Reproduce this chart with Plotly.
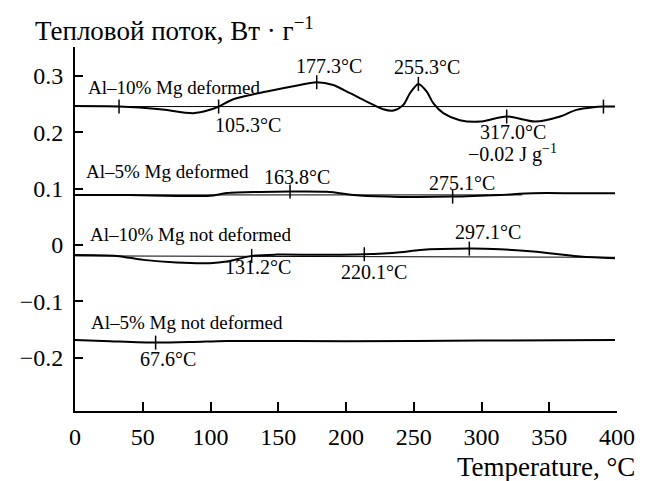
import plotly.graph_objects as go

# ---- data ----
t1 = [0, 32.5, 62.7, 87.3, 99.6, 106, 116.8, 141.5, 166, 178.4, 190.6, 203, 215.3, 227.5, 235, 242.3, 247.2, 253.4,
      259.6, 264.4, 271.8, 284, 298.9, 318.6, 339.5, 358, 370, 382.5, 390, 398.5]
v1 = [0.2465, 0.2457, 0.241, 0.234, 0.240, 0.2457, 0.2588, 0.2724, 0.284, 0.289, 0.284, 0.2694, 0.2545, 0.241, 0.2386,
      0.2487, 0.2694, 0.286, 0.2723, 0.2517, 0.234, 0.2215, 0.219, 0.228, 0.219, 0.228, 0.2398, 0.2446, 0.2457, 0.2457]
base1_t = [0, 398.5]
base1_v = [0.2457, 0.2457]

t2 = [0, 40, 75, 99.6, 112, 136.5, 158.7, 185.7, 210, 240, 278.7, 313.7, 338, 370, 398.5]
v2 = [0.0888, 0.0885, 0.087, 0.0873, 0.092, 0.094, 0.0947, 0.0942, 0.0876, 0.0853, 0.0858, 0.0888, 0.0918, 0.0918, 0.0918]
base2_t = [0, 330]
base2_v = [0.0888, 0.0888]

t3 = [0, 30.8, 50.4, 75, 99.6, 112, 130.4, 148.8, 180, 213.5, 240, 254.6, 291, 313.7, 338.2, 372.7, 398.5]
v3 = [-0.0178, -0.0195, -0.0266, -0.0314, -0.0325, -0.0296, -0.0195, -0.0172, -0.0175, -0.0166, -0.013, -0.0089,
      -0.0065, -0.0077, -0.0118, -0.0207, -0.0237]
base3_t = [0, 398.5]
base3_v = [-0.0195, -0.022]

t4 = [0, 25.8, 59.5, 87.3, 112, 200, 300, 398.5]
v4 = [-0.1687, -0.171, -0.1735, -0.1723, -0.1705, -0.171, -0.170, -0.169]

# tick marks on curves (temperature, value)
mark_t = [32.5, 106, 178.4, 253.4, 318.6, 390, 158.7, 278.7, 130.4, 213.5, 291, 59.5]
mark_v = [0.2457, 0.2457, 0.289, 0.286, 0.228, 0.2457, 0.0947, 0.0858, -0.0195, -0.0166, -0.0065, -0.1735]

# curve labels (left-anchored)
name_text = ["Al\u201310% Mg deformed", "Al\u20135% Mg deformed", "Al\u201310% Mg not deformed", "Al\u20135% Mg not deformed"]
name_t = [7.9, 6.6, 9.8, 10.6]
name_v = [0.2797, 0.130, 0.0178, -0.1377]

# peak labels (centered)
peak_text = ["177.3\u00b0C", "255.3\u00b0C", "105.3\u00b0C", "317.0\u00b0C", "\u22120.02 J g<sup>\u22121</sup>",
             "163.8\u00b0C", "275.1\u00b0C", "131.2\u00b0C", "220.1\u00b0C", "297.1\u00b0C", "67.6\u00b0C"]
peak_t = [187.5, 259.6, 127.7, 323.2, 323.2, 164.2, 285.4, 135.0, 220.7, 304.6, 68.9]
peak_v = [0.317, 0.316, 0.213, 0.2007, 0.163, 0.1213, 0.110, -0.039, -0.048, 0.023, -0.2025]

x_ticks = [0, 50, 100, 150, 200, 250, 300, 350, 400]
y_ticks = [-0.2, -0.1, 0, 0.1, 0.2, 0.3]

FONT = "Liberation Serif"

fig = go.Figure()
for bt, bv in [(base1_t, base1_v), (base2_t, base2_v), (base3_t, base3_v)]:
    fig.add_trace(go.Scatter(x=bt, y=bv, mode="lines", line=dict(color="black", width=1), hoverinfo="skip"))
for tt, vv in [(t1, v1), (t2, v2), (t3, v3), (t4, v4)]:
    fig.add_trace(go.Scatter(x=tt, y=vv, mode="lines", line=dict(color="black", width=2, shape="spline", smoothing=0.8)))
fig.add_trace(go.Scatter(x=mark_t, y=mark_v, mode="markers",
                         marker=dict(symbol="line-ns", size=10, line=dict(color="black", width=1.5))))

annotations = []
for txt, x, y in zip(name_text, name_t, name_v):
    annotations.append(dict(x=x, y=y, xref="x", yref="y", text=txt, showarrow=False, xanchor="left",
                            yanchor="middle", font=dict(family=FONT, size=19, color="black")))
for txt, x, y in zip(peak_text, peak_t, peak_v):
    annotations.append(dict(x=x, y=y, xref="x", yref="y", text=txt, showarrow=False, xanchor="center",
                            yanchor="middle", font=dict(family=FONT, size=20, color="black")))
annotations.append(dict(x=-0.0775, y=1.049, xref="paper", yref="paper",
                        text="Тепловой поток, Вт · г<sup>\u22121</sup>", showarrow=False, xanchor="left",
                        yanchor="middle", font=dict(family=FONT, size=27, color="black")))
annotations.append(dict(x=1.037, y=-0.154, xref="paper", yref="paper", text="Temperature, \u00b0C",
                        showarrow=False, xanchor="right", yanchor="middle",
                        font=dict(family=FONT, size=27, color="black")))

fig.update_layout(
    width=649, height=481,
    margin=dict(l=75, r=32, t=47, b=70),
    paper_bgcolor="white", plot_bgcolor="white",
    showlegend=False,
    annotations=annotations,
    font=dict(family=FONT, size=20, color="black"),
)
fig.update_xaxes(range=[0, 400], tickvals=x_ticks, ticks="inside", ticklen=9, tickwidth=2, tickcolor="black",
                 showline=True, linecolor="black", linewidth=2, showgrid=False, zeroline=False,
                 ticklabelstandoff=3,
                 tickfont=dict(family=FONT, size=24, color="black"))
fig.update_yaxes(range=[-0.295, 0.3515], tickvals=y_ticks, ticks="inside", ticklen=8, tickwidth=2,
                 tickcolor="black", showline=True, linecolor="black", linewidth=2, showgrid=False,
                 zeroline=False, ticklabelstandoff=5,
                 tickfont=dict(family=FONT, size=24, color="black"))

fig.write_html("out.html")
